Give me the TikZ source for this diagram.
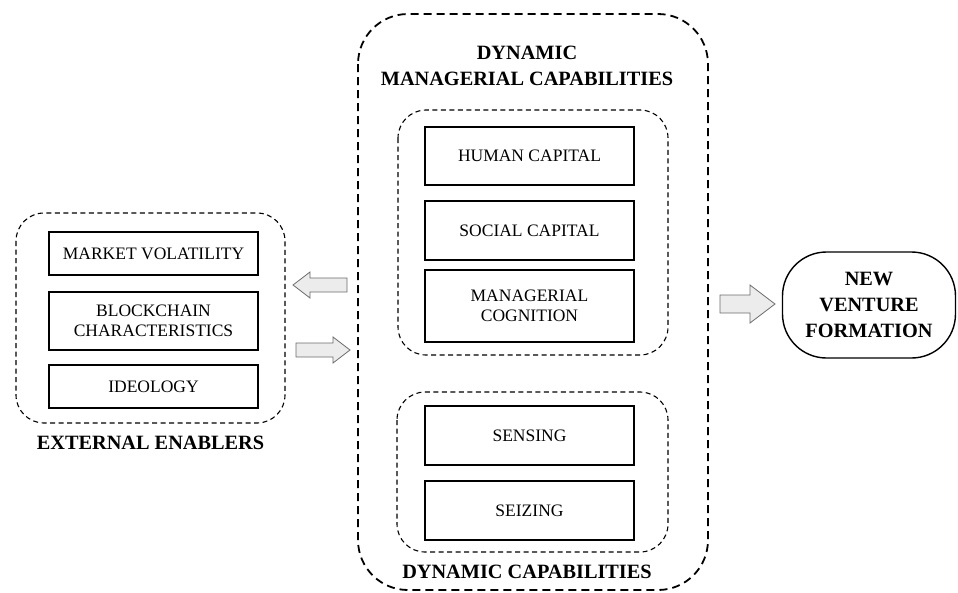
\documentclass[tikz,border=0pt]{standalone}
\usepackage{fontspec}
\setmainfont{Liberation Serif}
\begin{document}
\begin{tikzpicture}[x=1pt,y=-1pt,
  item/.style={draw, line width=1.4pt, minimum width=209pt, align=center,
    inner sep=0pt, font=\fontsize{17.5}{20}\selectfont},
  group/.style={draw, line width=1.1pt, dash pattern=on 5pt off 3.5pt,
    rounded corners=28pt},
  outer/.style={draw, line width=1.8pt, dash pattern=on 8pt off 5pt,
    rounded corners=50pt},
  title/.style={font=\bfseries\fontsize{20.3}{26}\selectfont, align=center, inner sep=0pt},
  blockarrow/.style={draw=gray!85!black, fill=gray!15, line width=0.8pt, line join=miter}
]
\useasboundingbox (0,0) rectangle (958,592);

% external enablers
\draw[group] (16,213) rectangle (285,423);
\node[item, minimum height=43pt] (mv) at (153.5,253.5) {MARKET VOLATILITY};
\node[item, minimum height=58pt] (bc) at (153.5,321) {BLOCKCHAIN\\CHARACTERISTICS};
\node[item, minimum height=43pt] (id) at (153.5,386.5) {IDEOLOGY};
\node[title] (ee) at (150.5,443) {EXTERNAL ENABLERS};

% dynamic managerial capabilities
\draw[outer] (358,14) rectangle (708,590);
\node[title] (dmc) at (527,66) {DYNAMIC\\MANAGERIAL CAPABILITIES};

\draw[group] (398,110) rectangle (668,355);
\node[item, minimum height=58pt] (hc) at (529.5,156) {HUMAN CAPITAL};
\node[item, minimum height=59pt] (sc) at (529.5,230.5) {SOCIAL CAPITAL};
\node[item, minimum height=72pt] (mc) at (529.5,306) {MANAGERIAL\\COGNITION};

\draw[group] (397,392) rectangle (668,552);
\node[item, minimum height=59pt] (se) at (529.5,435.5) {SENSING};
\node[item, minimum height=59pt] (sz) at (529.5,510.5) {SEIZING};
\node[title] (dc) at (527,572) {DYNAMIC CAPABILITIES};

% outcome
\node[draw, line width=1.4pt, rounded corners=44pt, minimum width=173pt,
  minimum height=106pt, title] (nvf) at (869,305) {NEW\\VENTURE\\FORMATION};

% block arrows
\draw[blockarrow] (347,278) -- (310,278) -- (310,272) -- (293,285) -- (310,298)
  -- (310,292) -- (347,292) -- cycle;
\draw[blockarrow] (296,343) -- (333,343) -- (333,337) -- (350,350) -- (333,363)
  -- (333,357) -- (296,357) -- cycle;
\draw[blockarrow] (720,295) -- (750,295) -- (750,285) -- (775,304) -- (750,323)
  -- (750,313) -- (720,313) -- cycle;
\end{tikzpicture}
\end{document}
